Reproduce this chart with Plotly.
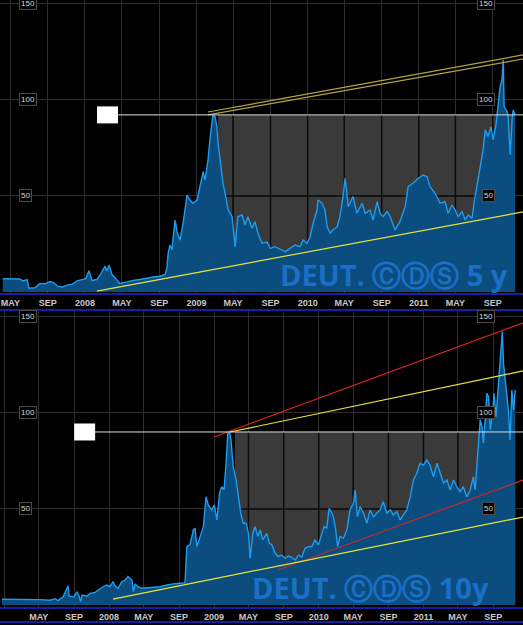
import plotly.graph_objects as go

# ---------------- data: 5y CDS (top panel) ----------------
dates_5y = ["2007-04-06","2007-04-30","2007-06-01","2007-06-11","2007-06-25","2007-07-01","2007-07-21","2007-08-06",
"2007-08-23","2007-09-08","2007-09-21","2007-10-01","2007-10-17","2007-11-03","2007-11-19","2007-12-06","2007-12-19",
"2008-01-04","2008-01-14","2008-01-24","2008-02-09","2008-02-23","2008-03-07","2008-03-13","2008-03-20","2008-03-30",
"2008-04-09","2008-04-25","2008-05-18","2008-06-07","2008-06-30","2008-07-23","2008-08-11","2008-09-03","2008-09-20",
"2008-09-26","2008-09-30","2008-10-06","2008-10-13","2008-10-16","2008-10-23","2008-10-29","2008-11-08","2008-11-18",
"2008-12-01","2008-12-11","2008-12-21","2009-01-03","2009-01-13","2009-01-23","2009-01-29","2009-02-08","2009-02-14",
"2009-02-21","2009-02-24","2009-03-03","2009-03-09","2009-03-13","2009-03-26","2009-03-29","2009-04-05","2009-04-15",
"2009-04-28","2009-05-08","2009-05-17","2009-05-31","2009-06-09","2009-06-19","2009-07-02","2009-07-12","2009-07-22",
"2009-08-04","2009-08-21","2009-08-31","2009-09-16","2009-10-02","2009-10-19","2009-11-04","2009-11-21","2009-12-07",
"2009-12-17","2009-12-30","2010-01-09","2010-01-19","2010-02-01","2010-02-04","2010-02-17","2010-02-27","2010-03-06",
"2010-03-16","2010-03-25","2010-04-08","2010-04-17","2010-04-27","2010-05-04","2010-05-10","2010-05-14","2010-05-20",
"2010-05-30","2010-06-12","2010-06-29","2010-07-09","2010-07-25","2010-08-04","2010-08-17","2010-08-27","2010-09-06",
"2010-09-19","2010-09-29","2010-10-15","2010-10-31","2010-11-17","2010-11-27","2010-12-13","2010-12-30","2011-01-15",
"2011-01-28","2011-02-07","2011-02-23","2011-03-12","2011-03-28","2011-04-07","2011-04-20","2011-04-30","2011-05-10",
"2011-05-23","2011-06-02","2011-06-12","2011-06-25","2011-07-01","2011-07-11","2011-07-21","2011-07-31","2011-08-07",
"2011-08-16","2011-08-26","2011-09-02","2011-09-12","2011-09-18","2011-09-25","2011-10-01","2011-10-05","2011-10-08",
"2011-10-18","2011-10-21","2011-10-28","2011-11-03","2011-11-07","2011-11-13"]
cds_5y = [6.9,7.0,6.8,5.8,6.5,2.0,2.2,4.5,
4.3,5.5,4.8,3.2,2.5,3.6,4.0,5.8,6.5,
7.0,11.1,6.0,6.5,9.7,13.5,11.0,14.0,9.0,
7.3,4.5,5.3,6.1,6.5,7.4,7.8,8.2,9.2,
12.7,20.1,24.5,22.0,28.0,37.5,31.4,27.0,35.8,
50.5,47.9,46.2,47.9,54.8,62.7,58.3,68.8,79.0,
89.6,92.2,91.3,86.0,77.4,60.0,56.6,51.4,42.7,
39.2,23.6,39.2,40.1,34.9,39.2,33.2,36.6,30.6,
25.4,26.0,22.7,23.6,22.2,21.0,22.7,24.5,23.6,
27.0,25.4,28.8,35.8,42.7,47.9,46.2,42.7,34.0,
30.6,32.3,34.0,39.2,49.7,59.2,51.4,44.4,46.2,
49.7,41.0,46.2,41.0,42.7,37.5,47.0,41.0,39.2,
41.9,39.2,32.3,36.6,44.4,54.8,56.6,59.2,60.9,
60.0,54.8,51.4,46.2,47.0,41.0,45.3,42.7,39.2,
41.9,37.5,40.1,38.4,46.2,54.8,63.5,74.0,84.4,
80.9,86.0,79.2,87.9,96.5,107.0,110.4,120.8,96.5,
93.9,91.3,71.4,89.6,94.8,92.2]

# ---------------- data: 10y CDS (bottom panel) ----------------
dates_10y = ["2006-12-24","2007-02-25","2007-05-05","2007-06-09","2007-06-27","2007-07-07","2007-07-25","2007-08-11",
"2007-08-15","2007-09-01","2007-09-11","2007-09-18","2007-09-24","2007-09-29","2007-10-16","2007-10-27","2007-11-13",
"2007-11-24","2007-12-11","2007-12-25","2008-01-04","2008-01-15","2008-01-22","2008-02-01","2008-02-15","2008-02-26",
"2008-03-07","2008-03-21","2008-03-26","2008-04-01","2008-04-11","2008-04-25","2008-05-12","2008-06-02","2008-06-27",
"2008-07-21","2008-08-11","2008-09-05","2008-09-15","2008-09-22","2008-09-28","2008-10-09","2008-10-21","2008-10-27",
"2008-11-02","2008-11-13","2008-11-25","2008-12-04","2008-12-12","2008-12-24","2009-01-02","2009-01-11","2009-01-20",
"2009-01-28","2009-02-05","2009-02-12","2009-02-18","2009-02-24","2009-03-01","2009-03-09","2009-03-19","2009-03-27",
"2009-04-04","2009-04-13","2009-04-23","2009-05-01","2009-05-07","2009-05-16","2009-05-24","2009-06-03","2009-06-11",
"2009-06-20","2009-07-04","2009-07-13","2009-07-21","2009-08-02","2009-08-13","2009-08-25","2009-09-06","2009-09-17",
"2009-09-29","2009-10-11","2009-10-22","2009-11-03","2009-11-14","2009-11-26","2009-12-08","2009-12-19","2009-12-31",
"2010-01-12","2010-01-20","2010-01-29","2010-02-06","2010-02-16","2010-02-21","2010-03-01","2010-03-08","2010-03-16",
"2010-03-28","2010-04-09","2010-04-20","2010-05-02","2010-05-08","2010-05-16","2010-05-25","2010-06-06","2010-06-18",
"2010-06-29","2010-07-11","2010-07-22","2010-08-03","2010-08-14","2010-08-26","2010-09-07","2010-09-18","2010-09-30",
"2010-10-12","2010-10-23","2010-11-04","2010-11-16","2010-11-27","2010-12-09","2010-12-20","2011-01-01","2011-01-13",
"2011-01-24","2011-02-05","2011-02-17","2011-02-28","2011-03-12","2011-03-24","2011-04-04","2011-04-16","2011-04-27",
"2011-05-09","2011-05-20","2011-06-01","2011-06-13","2011-06-24","2011-06-30","2011-07-06","2011-07-12","2011-07-18",
"2011-07-24","2011-07-29","2011-08-04","2011-08-10","2011-08-16","2011-08-22","2011-08-31","2011-09-04","2011-09-11",
"2011-09-19","2011-09-25","2011-10-03","2011-10-07","2011-10-13","2011-10-19","2011-10-24","2011-10-30","2011-11-05",
"2011-11-11","2011-11-17"]
cds_10y = [3.0,3.0,2.8,2.5,3.3,2.3,4.3,9.9,
4.6,4.3,6.9,5.0,1.8,5.2,4.6,6.1,6.5,
7.8,9.5,10.4,9.5,12.2,10.0,8.7,12.2,13.0,
14.8,13.0,6.9,11.0,9.5,8.7,8.9,9.2,9.5,
10.4,11.0,11.3,11.3,11.5,30.4,31.3,39.1,40.0,
30.4,35.6,40.8,56.4,52.1,49.5,52.1,44.3,58.2,
61.6,60.0,73.8,89.4,90.3,85.9,72.0,65.1,56.4,
47.8,42.6,42.6,37.3,24.3,37.3,40.8,35.6,39.1,
33.9,37.3,32.1,31.5,26.9,25.2,26.0,24.3,25.5,
24.8,23.4,26.0,25.0,29.5,30.4,30.4,33.9,31.3,
37.3,40.8,40.0,50.3,47.8,46.0,39.1,30.4,35.6,
34.7,39.1,49.5,53.0,59.9,46.0,51.2,47.8,42.6,
49.5,46.0,47.8,49.5,53.8,47.8,49.5,46.9,48.6,
44.3,46.9,49.5,56.4,65.1,68.6,73.8,72.9,75.5,
72.9,66.8,73.8,68.6,63.4,65.1,59.9,65.1,61.6,
59.0,61.6,56.4,59.9,66.8,59.9,72.0,82.4,96.4,
93.0,84.2,96.4,110.3,108.5,91.3,101.6,110.3,98.1,
113.7,127.6,142.4,125.9,117.2,110.3,101.6,85.9,112.0,
101.6,112.0]

# ---------------- axis ticks ----------------
ticks_5y = ["2007-05-01","2007-09-01","2008-01-01","2008-05-01","2008-09-01","2009-01-01","2009-05-01",
            "2009-09-01","2010-01-01","2010-05-01","2010-09-01","2011-01-01","2011-05-01","2011-09-01"]
labels_5y = ["MAY","SEP","2008","MAY","SEP","2009","MAY","SEP","2010","MAY","SEP","2011","MAY","SEP"]
ticks_10y = ["2007-01-01"] + ticks_5y
labels_10y = [""] + labels_5y
range_5y = ["2007-03-28", "2011-12-09"]
range_10y = ["2006-12-17", "2011-12-14"]
y_ticks = [50, 100, 150]

# ---------------- reference levels & trend lines ----------------
level_5y, level_5y_from = 92.2, "2008-03-15"
level_10y, level_10y_from = 90.1, "2007-10-08"
box_5y = ["2009-03-13", dates_5y[-1]]
box_10y = ["2009-03-15", dates_10y[-1]]

trend_5y = [  # (dates, values, colour)
    (["2009-02-08", range_5y[1]], [93.7, 123.4], "#b3a443"),
    (["2009-02-08", range_5y[1]], [92.2, 121.3], "#b3a443"),
    (["2008-02-09", range_5y[1]], [0.5, 41.7], "#e6e63a"),
]
trend_10y = [
    (["2009-01-01", range_10y[1]], [87.5, 146.9], "#d42424"),
    (["2009-02-26", range_10y[1]], [90.1, 121.9], "#e6e63a"),
    (["2009-08-12", range_10y[1]], [18.2, 65.1], "#c42a2a"),
    (["2008-01-15", range_10y[1]], [3.1, 45.8], "#e6e63a"),
]

H, W = 625, 523
AXIS_BLUE = "#1c1ca6"
GRID = "#2e2e2e"
LINE_BLUE = "#1e9cf0"
FILL_BLUE = "#0a4d7e"

fig = go.Figure()


def add_panel(xa, ya, dates, vals, ticks, level, level_from, box, trends, x_end):
    # dark gridlines over the grey box
    gx, gy = [], []
    for t in ticks:
        if box[0] < t < box[1]:
            gx += [t, t, None]
            gy += [0, level, None]
    gx += [box[0], box[1]]
    gy += [50, 50]
    fig.add_trace(go.Scatter(x=gx, y=gy, mode="lines", line=dict(color="#0c0c0c", width=1.5),
                             xaxis=xa, yaxis=ya, hoverinfo="skip", showlegend=False))
    fig.add_trace(go.Scatter(x=dates, y=vals, mode="lines", fill="tozeroy", fillcolor=FILL_BLUE,
                             line=dict(color=LINE_BLUE, width=1.4), xaxis=xa, yaxis=ya,
                             hoverinfo="skip", showlegend=False))
    for tx, ty, col in trends:
        fig.add_trace(go.Scatter(x=tx, y=ty, mode="lines", line=dict(color=col, width=1.2),
                                 xaxis=xa, yaxis=ya, hoverinfo="skip", showlegend=False))
    xr = "x" if xa == "x" else "x2"
    yr = "y" if ya == "y" else "y2"
    fig.add_shape(type="rect", xref=xr, yref=yr, x0=box[0], x1=box[1], y0=0, y1=level,
                  fillcolor="#3a3a3a", line=dict(width=0), layer="below")
    fig.add_shape(type="line", xref=xr, yref=yr, x0=level_from, x1=x_end,
                  y0=level, y1=level, line=dict(color="#dcdcdc", width=1))
    fig.add_shape(type="rect", xref=xr, yref=yr, xsizemode="pixel", ysizemode="pixel",
                  xanchor=level_from, yanchor=level, x0=-10.5, x1=10.5, y0=-8.5, y1=8.5,
                  fillcolor="white", line=dict(width=0))
    for v in y_ticks:
        for xpos in (0.037, 0.947):
            fig.add_annotation(x=xpos, xref=xr + " domain", y=v, yref=yr, text=str(v),
                               showarrow=False, font=dict(size=8, color="#d8d8d8", family="Arial"),
                               bgcolor="black", bordercolor="#4a4a4a", borderwidth=1, borderpad=1)


add_panel("x", "y", dates_5y, cds_5y, ticks_5y, level_5y, level_5y_from, box_5y, trend_5y, range_5y[1])
add_panel("x2", "y2", dates_10y, cds_10y, ticks_10y, level_10y, level_10y_from, box_10y, trend_10y, range_10y[1])

title_font = dict(size=29, color="#1b6fc6", family="Open Sans, DejaVu Sans", weight="bold")
fig.add_annotation(x=0.976, xref="x domain", xanchor="right", y=9, yref="y", yanchor="middle",
                   text="DEUT. ⒸⒹⓈ 5 y", showarrow=False, font=title_font)
fig.add_annotation(x=0.938, xref="x2 domain", xanchor="right", y=9, yref="y2", yanchor="middle",
                   text="DEUT. ⒸⒹⓈ 10y", showarrow=False, font=title_font)

fig.add_shape(type="line", xref="paper", yref="paper", x0=0, x1=1, y0=1 - 622 / H, y1=1 - 622 / H,
              line=dict(color=AXIS_BLUE, width=2))

tickfont = dict(size=9, color="#c8c8c8", family="Arial", weight="bold")
common_x = dict(type="date", showgrid=True, gridcolor=GRID, gridwidth=1, zeroline=False, ticks="",
                showline=True, linecolor=AXIS_BLUE, linewidth=2, tickfont=tickfont, tickangle=0)
common_y = dict(showgrid=True, gridcolor=GRID, gridwidth=1, zeroline=False, showticklabels=False,
                tickvals=y_ticks, ticks="", showline=False)

fig.update_layout(
    width=W, height=H, margin=dict(l=0, r=0, t=0, b=0),
    paper_bgcolor="black", plot_bgcolor="black", showlegend=False,
    xaxis=dict(domain=[0, 1], anchor="y", range=range_5y, tickvals=ticks_5y, ticktext=labels_5y, **common_x),
    yaxis=dict(domain=[1 - 293 / H, 1], anchor="x", range=[-0.5, 152], **common_y),
    xaxis2=dict(domain=[0, 1], anchor="y2", range=range_10y, tickvals=ticks_10y, ticktext=labels_10y,
                mirror=True, **common_x),
    yaxis2=dict(domain=[1 - 607 / H, 1 - 311 / H], anchor="x2", range=[-1.04, 153.1], **common_y),
)

fig.write_html("out.html")
